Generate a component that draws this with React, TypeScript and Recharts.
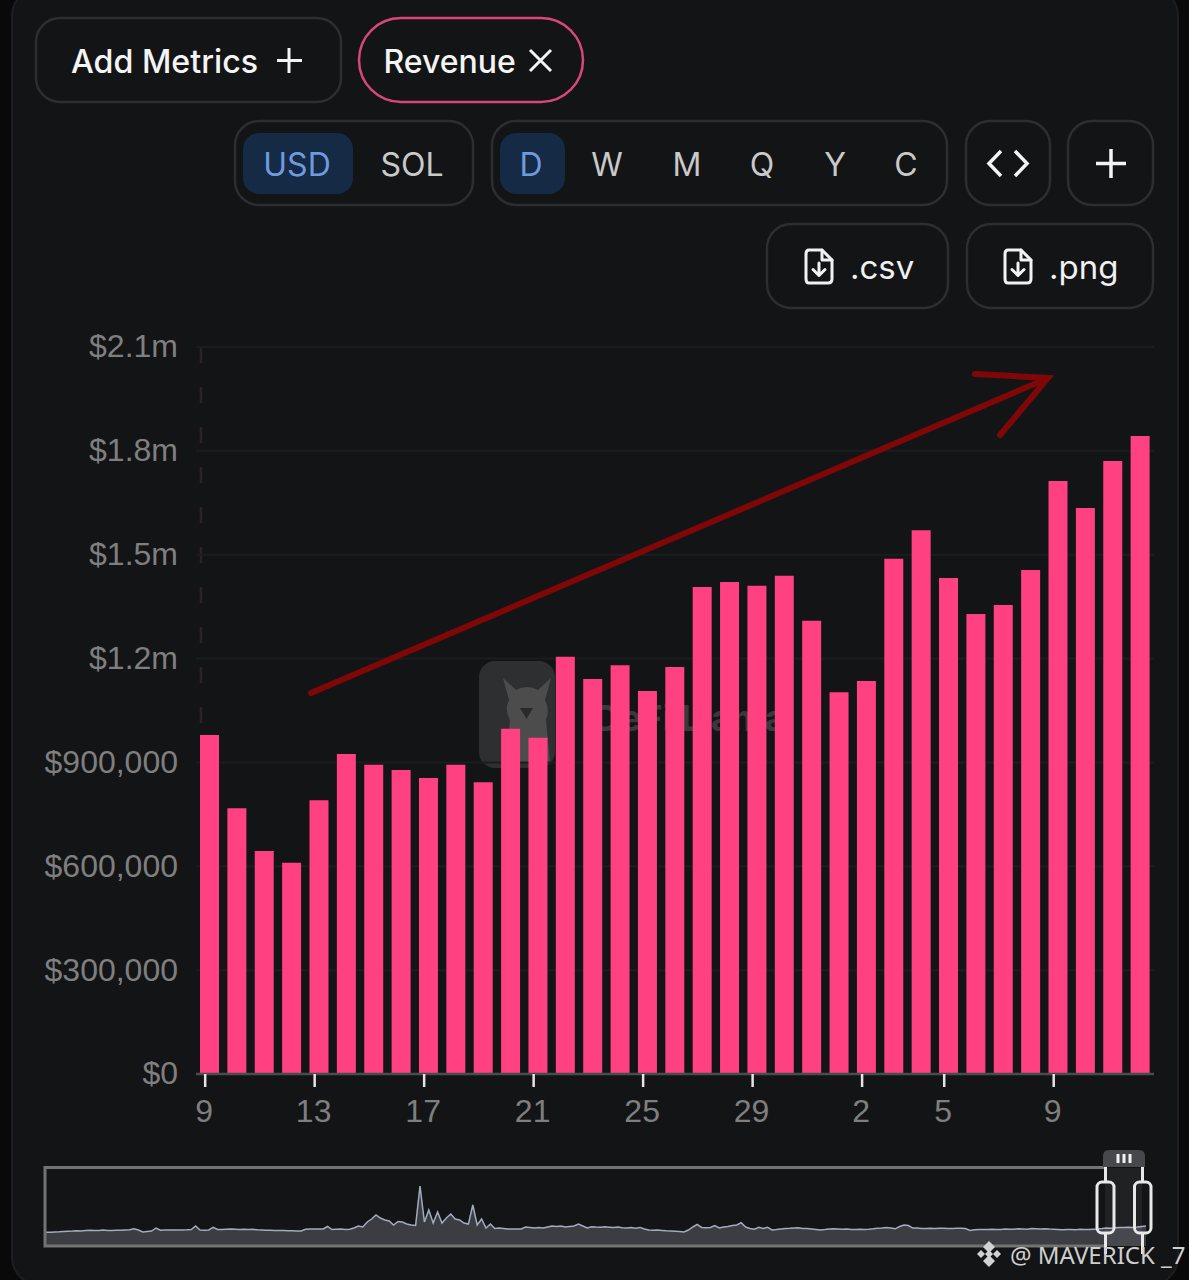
import { Area, AreaChart, Bar, BarChart, CartesianGrid, XAxis, YAxis } from "recharts";

const dates = [
  "Oct 9", "Oct 10", "Oct 11", "Oct 12", "Oct 13", "Oct 14", "Oct 15", "Oct 16", "Oct 17", "Oct 18", "Oct 19", "Oct 20",
  "Oct 21", "Oct 22", "Oct 23", "Oct 24", "Oct 25", "Oct 26", "Oct 27", "Oct 28", "Oct 29", "Oct 30", "Oct 31",
  "Nov 1", "Nov 2", "Nov 3", "Nov 4", "Nov 5", "Nov 6", "Nov 7", "Nov 8", "Nov 9", "Nov 10", "Nov 11", "Nov 12"
];

const revenue = [
  979000, 768000, 644000, 610000, 791000, 924000, 893000, 878000, 855000, 893000, 843000, 997000,
  971000, 1205000, 1141000, 1181000, 1106000, 1176000, 1407000, 1421000, 1410000, 1439000, 1309000,
  1103000, 1135000, 1488000, 1571000, 1433000, 1329000, 1355000, 1456000, 1713000, 1635000, 1771000, 1843000
];

const tickDates = ["Oct 9", "Oct 13", "Oct 17", "Oct 21", "Oct 25", "Oct 29", "Nov 2", "Nov 5", "Nov 9"];
const yTicks = [0, 300000, 600000, 900000, 1200000, 1500000, 1800000, 2100000];

// overview strip under the chart in arbitrary units
const overview = [
  13.7, 13.8, 14, 14.2, 14.5, 14.8, 15, 15.3, 15, 15.5, 15.7, 15.4, 15.6, 15.9, 15.5, 15.6, 15.8, 15.7, 16, 16.2,
  17.2, 16, 14, 14.5, 15, 18, 15.8, 16, 16, 16, 15.9, 16, 16.2, 16.5, 20, 16, 15.8, 16, 18.7, 16.5,
  16.6, 16.8, 17, 16.8, 16.4, 16.8, 16.5, 16.7, 16.2, 16, 15.8, 15.7, 15.6, 15.5, 15.4, 15.3, 15.2, 15.1, 15, 16.8,
  17, 17, 17, 17, 19.5, 16.5, 16.8, 17, 16.6, 16.8, 18, 20, 19, 24, 27, 31, 28, 26, 25, 21,
  24.5, 24, 22, 21, 20.5, 60, 24, 36, 23, 34, 23, 28, 32, 27, 26, 23, 22, 41, 21, 27,
  18, 22, 17.5, 18, 17.5, 17, 17, 17, 17, 19, 18.5, 18, 18.5, 18, 19, 20, 19.5, 20, 19, 19.5,
  20, 22, 20, 18, 19.3, 19, 18.8, 19.2, 18.8, 18.4, 18.9, 18.3, 18, 18.4, 17.8, 18.6, 17, 16, 15.8, 16,
  15.6, 15.2, 15, 14.8, 14.6, 14, 16, 19, 21.7, 18.6, 18.2, 18.5, 20.5, 18, 19, 19.4, 20.5, 21, 23.3, 19,
  17.5, 16.8, 18.7, 17.5, 18.7, 16, 16.4, 17, 17.5, 17.7, 18, 18.2, 17.6, 17.4, 17, 16.5, 16, 16.4, 17, 17.3,
  17.1, 16.8, 16.9, 16.6, 16.4, 16.7, 16.5, 16.8, 17.2, 17.8, 18, 18.6, 18, 17.2, 19.5, 21, 20.5, 17.9, 18, 17.4,
  17.6, 17.8, 17.5, 17.8, 17.7, 17.5, 17.6, 17.7, 17.7, 17.5, 15.6, 16.2, 16.5, 16.6, 16.4, 16.8, 16.6, 16.5, 16.9, 16.7,
  16.8, 17.2, 17, 16.8, 17.4, 17.2, 17, 17.2, 16.9, 16.8, 16.6, 16.2, 16.5, 16.6, 16.3, 16.7, 16.5, 16.6, 16.8, 17,
  17.4, 18, 17.8, 18.2, 18.6, 18.4, 18.8, 18.5, 18.9, 19.5, 20
];

const barData = dates.map((date, i) => ({ date, revenue: revenue[i] }));
const overviewData = overview.map((value, i) => ({ i, value }));

const BORDER = "#2d2e32";
const UI_FONT = "Inter, sans-serif";
const AXIS_FONT = "'Liberation Sans', Arial, sans-serif";

const formatY = (v: number) => {
  if (v >= 1000000) return `$${(v / 1000000).toFixed(1)}m`;
  return `$${v.toLocaleString("en-US")}`;
};

function DayTick({ x, y, payload }: any) {
  return (
    <g>
      <line x1={x - 4.5} x2={x - 4.5} y1={y} y2={y + 13} stroke="#e4e4e4" strokeWidth={2.5} />
      <text x={x - 5.5} y={y + 48} textAnchor="middle" fill="#7f7f7f" fontSize={32} fontFamily={AXIS_FONT}>
        {payload.value.split(" ")[1]}
      </text>
    </g>
  );
}

function Frame({ x, y, w, h, r = 24 }: { x: number; y: number; w: number; h: number; r?: number }) {
  return <rect x={x} y={y} width={w} height={h} rx={r} fill="none" stroke={BORDER} strokeWidth={2.5} />;
}

function Label({ x, y, text, color = "#c9c9c9", size = 32, weight = 400, anchor = "middle" }: any) {
  return (
    <text x={x} y={y} textAnchor={anchor} dominantBaseline="central" fill={color} fontSize={size} fontWeight={weight} fontFamily={UI_FONT}>
      {text}
    </text>
  );
}

function FileIcon({ x, y }: { x: number; y: number }) {
  return (
    <g transform={`translate(${x},${y})`} fill="none" stroke="#f2f2f2" strokeWidth={3} strokeLinejoin="round" strokeLinecap="round">
      <path d="M4 0 H17 L27 10 V29 Q27 33 23 33 H4 Q1 33 1 29 V4 Q1 0 4 0 Z" />
      <path d="M17 0 V10 H27" />
      <path d="M14 13 V25 M8 19.5 L14 25.5 L20 19.5" />
    </g>
  );
}

function Backdrop() {
  return (
    <svg width={1189} height={1280} style={{ position: "absolute", left: 0, top: 0 }}>
      <rect width={1189} height={1280} fill="#09090a" />
      <rect x={12} y={-12} width={1166} height={1297} rx={28} fill="#131416" stroke="#1d1e21" strokeWidth={2} />

      <Frame x={36} y={18} w={305} h={84} />
      <Label x={71} y={61} text="Add Metrics" color="#f4f4f4" size={32.2} weight={500} anchor="start" />
      <path d="M289 48 V73 M277 60.5 H302" stroke="#f4f4f4" strokeWidth={3} fill="none" />
      <rect x={359} y={18} width={224} height={84} rx={42} fill="none" stroke="#d9467e" strokeWidth={2.5} />
      <Label x={383.5} y={61} text="Revenue" color="#f4f4f4" weight={500} anchor="start" />
      <path d="M530 50 L551 71 M551 50 L530 71" stroke="#f4f4f4" strokeWidth={3} fill="none" />

      <Frame x={235} y={121} w={238} h={84} />
      <rect x={243} y={133} width={110} height={61} rx={16} fill="#152a45" />
      <Label x={297} y={164} text="USD" color="#6f9ade" />
      <Label x={412} y={164} text="SOL" />

      <Frame x={492} y={121} w={455} h={84} />
      <rect x={500} y={133} width={65} height={61} rx={16} fill="#152a45" />
      <Label x={531} y={164} text="D" color="#6f9ade" />
      <Label x={607} y={164} text="W" />
      <Label x={687} y={164} text="M" />
      <Label x={762} y={164} text="Q" />
      <Label x={835} y={164} text="Y" />
      <Label x={906} y={164} text="C" />

      <Frame x={966} y={121} w={84} h={84} />
      <path d="M1001 151 L989 163.5 L1001 176 M1015 151 L1027 163.5 L1015 176" stroke="#f4f4f4" strokeWidth={3.5} fill="none" />
      <Frame x={1068} y={121} w={85} h={84} />
      <path d="M1111 149 V178 M1096 163.5 H1126" stroke="#f4f4f4" strokeWidth={3.5} fill="none" />

      <Frame x={767} y={224} w={181} h={84} />
      <FileIcon x={805} y={250} />
      <Label x={850} y={267} text=".csv" color="#f0f0f0" size={33} anchor="start" />
      <Frame x={967} y={224} w={186} h={84} />
      <FileIcon x={1004} y={250} />
      <Label x={1049} y={267} text=".png" color="#f0f0f0" size={33} anchor="start" />

      {/* chart watermark, sits behind the bars */}
      <rect x={479} y={661} width={76} height={107} rx={16} fill="#2e2f31" />
      <path
        d="M503 678 L516 690 Q527 684 538 690 L551 678 L545 700 Q550 710 546 720 L550 762 H506 L510 720 Q504 710 509 700 Z"
        fill="#4c4c4d"
      />
      <path d="M520 708 H533 L526.5 719 Z" fill="#2a2a2b" />
      <text x={594} y={718} dominantBaseline="central" fill="#39393b" fontSize={36} fontWeight={700} fontFamily={UI_FONT}>
        DeFi Llama
      </text>

      <line x1={201} x2={201} y1={347} y2={735} stroke="#2d2227" strokeWidth={2.5} strokeDasharray="16 24" />
    </svg>
  );
}

function Overlay() {
  return (
    <svg width={1189} height={1280} style={{ position: "absolute", left: 0, top: 0 }}>
      {/* hand drawn trend arrow */}
      <g stroke="#800707" strokeWidth={6} fill="none" strokeLinecap="round">
        <path d="M311 693 L1046 379" />
        <path d="M975 374 L1048 378 L1000 435" />
      </g>

      {/* range selector frame and handles */}
      <path d="M1105 1167.5 H45 V1246 H1105" fill="none" stroke="#737373" strokeWidth={3} />
      <rect x={1105} y={1168} width={37} height={78} fill="#ffffff" opacity={0.06} />
      <path d="M1103 1167 V1156 Q1103 1150 1109 1150 H1139 Q1145 1150 1145 1156 V1167 Z" fill="#47484b" />
      <path d="M1118 1154 V1163 M1124 1154 V1163 M1130 1154 V1163" stroke="#f2f2f2" strokeWidth={3} />
      <g stroke="#e8e8e8" strokeWidth={3}>
        <path d="M1105.5 1167 V1182 M1105.5 1233 V1254 M1142.5 1167 V1182 M1142.5 1233 V1254" />
        <rect x={1097} y={1182} width={17} height={51} rx={5} fill="none" />
        <rect x={1134.5} y={1182} width={16.5} height={51} rx={5} fill="none" />
      </g>

      {/* poster signature */}
      <g fill="#d2d2d2">
        <path d="M989 1241 L995 1247 L989 1253 L983 1247 Z" />
        <path d="M989 1250 L993 1254 L989 1258 L985 1254 Z" />
        <path d="M981 1250 L985 1254 L981 1258 L977 1254 Z" />
        <path d="M997 1250 L1001 1254 L997 1258 L993 1254 Z" />
        <path d="M989 1255 L995 1261 L989 1267 L983 1261 Z" />
      </g>
      <text x={1010} y={1254} dominantBaseline="central" fill="#cfcfcf" fontSize={24} fontFamily="'Noto Sans', sans-serif">
        @ MAVERICK _7
      </text>
    </svg>
  );
}

export default function App() {
  return (
    <div style={{ position: "absolute", left: 0, top: 0, width: 1189, height: 1280, overflow: "hidden" }}>
      <Backdrop />
      <div style={{ position: "absolute", left: 0, top: 0 }}>
        <BarChart width={1189} height={1140} data={barData} margin={{ top: 347, right: 35, bottom: 6, left: 0 }}>
          <CartesianGrid vertical={false} stroke="#1b1c1f" strokeWidth={2} />
          <XAxis
            dataKey="date"
            ticks={tickDates}
            interval={0}
            height={60}
            tickSize={0}
            tickMargin={0}
            tickLine={false}
            axisLine={{ stroke: "#474c4d", strokeWidth: 2.5 }}
            tick={DayTick}
          />
          <YAxis
            width={196}
            domain={[0, 2100000]}
            ticks={yTicks}
            interval={0}
            tickFormatter={formatY}
            axisLine={false}
            tickLine={false}
            tickSize={0}
            tickMargin={18}
            dy={-1}
            tick={{ fill: "#7f7f7f", fontSize: 32, fontFamily: AXIS_FONT }}
          />
          <Bar dataKey="revenue" fill="#ff4081" barSize={19} isAnimationActive={false} />
        </BarChart>
      </div>
      <div style={{ position: "absolute", left: 45.5, top: 1167 }}>
        <AreaChart width={1100} height={79} data={overviewData} margin={{ top: 0, right: 0, bottom: 0, left: 0 }}>
          <XAxis dataKey="i" hide />
          <YAxis hide domain={[0, 79]} />
          <Area dataKey="value" type="linear" stroke="#a3abc0" strokeWidth={1.5} fill="#3c3d42" fillOpacity={1} dot={false} isAnimationActive={false} />
        </AreaChart>
      </div>
      <Overlay />
    </div>
  );
}
